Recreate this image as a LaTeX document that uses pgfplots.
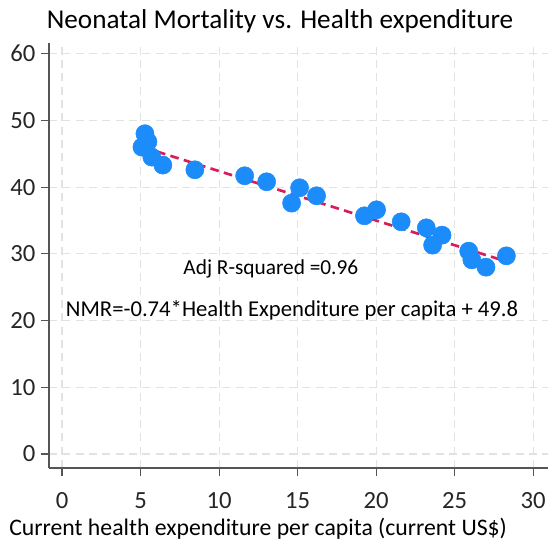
\documentclass[border=0pt]{standalone}
\usepackage{pgfplots}
\pgfplotsset{compat=1.18}
\usepackage{fontspec}
\setmainfont{Carlito}
\definecolor{ptblue}{RGB}{28,140,250}
\definecolor{fitred}{RGB}{215,30,90}
\definecolor{gridc}{RGB}{226,226,226}
\definecolor{axc}{RGB}{85,85,85}
\begin{document}
\begin{tikzpicture}
\begin{axis}[
  scale only axis,
  width=374.25pt, height=318.75pt,
  xmin=-0.83, xmax=30.95, ymin=-2.1, ymax=61.6,
  axis x line=bottom, axis y line=left,
  axis line style={-, axc, line width=0.8pt},
  tick align=outside,
  major tick length=6pt,
  tick style={axc, line width=0.8pt},
  xtick={0,5,...,30}, ytick={0,10,...,60},
  grid=major,
  grid style={gridc, dash pattern=on 6pt off 4pt, line width=0.8pt},
  /pgf/number format/assume math mode=true,
  ticklabel style={font=\fontsize{18.5}{22}\selectfont, text=black!85},
  xticklabel style={anchor=base, yshift=-24pt},
  yticklabel style={anchor=east, inner sep=0pt, xshift=-4pt},
  title={Neonatal Mortality vs. Health expenditure},
  title style={font=\fontsize{20.4}{24}\selectfont, at={(axis description cs:0.463,1)}, anchor=base, yshift=5pt, inner sep=0pt},
  xlabel={Current health expenditure per capita (current US\$)},
  xlabel style={font=\fontsize{17.8}{21}\selectfont, at={(axis description cs:0.419,0)}, anchor=base, yshift=-50.5pt, inner sep=0pt},
  clip=false,
]
\addplot[only marks, mark=*, mark size=6.8pt, mark options={fill=ptblue, draw=ptblue}] coordinates {
(5.28,48.0) (5.47,46.8) (5.09,46.0) (5.72,44.5) (6.42,43.3) (8.46,42.6)
(11.63,41.7) (13.03,40.8) (15.13,39.9) (14.62,37.6) (16.21,38.7)
(19.26,35.7) (20.03,36.6) (21.6,34.8) (23.2,33.9) (24.2,32.8) (23.6,31.3)
(25.9,30.4) (26.1,29.1) (27.0,28.0) (28.3,29.7)
};
\addplot[fitred, line width=2pt, dash pattern=on 6.5pt off 4pt] coordinates {(5.2,45.95) (28.4,28.78)};
\node[font=\fontsize{16}{19}\selectfont] at (axis cs:13.3,27.8) {Adj R-squared =0.96};
\node[font=\fontsize{17}{20}\selectfont] at (axis cs:14.65,21.5) {NMR=-0.74*Health Expenditure per capita + 49.8};
\end{axis}
\pgfresetboundingbox
\useasboundingbox ([xshift=-36.75pt,yshift=-56.25pt]current axis.south west) rectangle ([yshift=32.25pt]current axis.north east);
\end{tikzpicture}
\end{document}
